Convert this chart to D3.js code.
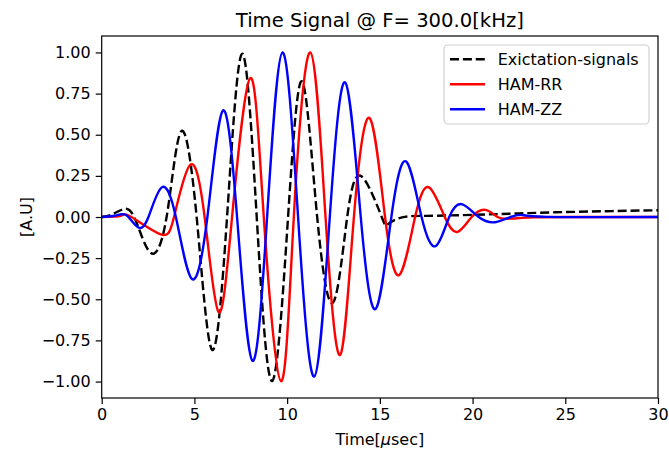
<!DOCTYPE html>
<html>
<head>
<meta charset="utf-8">
<script src="https://cdn.jsdelivr.net/npm/d3@7"></script>
<style>
  html, body { margin: 0; padding: 0; background: #fff; }
  svg text { font-family: "DejaVu Sans", sans-serif; fill: #000; }
</style>
</head>
<body>
<svg id="chart" width="669" height="452"></svg>
<script>
// ---- data ----
const title = "Time Signal @ F= 300.0[kHz]";
const seriesNames = ["Exictation-signals", "HAM-RR", "HAM-ZZ"];

// Excitation signal: time [µs] and amplitude at extrema / zero crossings
const excT = [0, 0.5, 1.08, 1.75, 2.62, 3.5, 4.28, 5.12, 5.95, 6.76, 7.57, 8.36, 9.19, 10.05, 10.81, 11.62, 12.48, 13.24, 14.02, 15.1, 15.46, 16.2, 17.5, 20, 22.5, 25, 27.5, 30];
const excV = [0, 0.013, 0.044, 0, -0.216, 0, 0.52, 0, -0.807, 0, 0.992, 0, -0.997, 0, 0.824, 0, -0.52, 0, 0.246, 0, -0.042, -0.002, 0.007, 0.013, 0.022, 0.03, 0.036, 0.041];

// HAM-RR
const rrT = [0, 0.6, 1.08, 1.6, 3.15, 3.9, 4.77, 5.55, 6.3, 7.03, 8.01, 8.74, 9.67, 10.36, 11.25, 12.07, 12.86, 13.6, 14.45, 15.28, 16.06, 16.9, 17.65, 18.5, 19.2, 19.95, 20.7, 21.35, 22.05, 23.2, 25, 30];
const rrV = [0, 0.002, 0.01, 0, -0.104, 0, 0.317, 0, -0.578, 0, 0.844, 0, -0.998, 0, 1.0, 0, -0.838, 0, 0.601, 0, -0.351, 0, 0.18, 0, -0.09, 0, 0.043, 0, -0.01, -0.002, 0, 0];

// HAM-ZZ
const zzT = [0, 0.6, 1.08, 1.44, 1.98, 2.52, 3.24, 4.0, 4.86, 5.7, 6.53, 7.3, 8.13, 8.92, 9.75, 10.59, 11.46, 12.3, 13.13, 13.97, 14.78, 15.62, 16.42, 17.25, 18.02, 18.74, 19.45, 20.33, 21.2, 22.05, 22.7, 24, 30];
const zzV = [0, 0.006, 0.017, 0, -0.064, 0, 0.18, 0, -0.376, 0, 0.646, 0, -0.874, 0, 1.0, 0, -0.97, 0, 0.818, 0, -0.558, 0, 0.337, 0, -0.176, 0, 0.077, 0, -0.032, 0, 0.012, 0.001, 0];

const xTicks = [0, 5, 10, 15, 20, 25, 30];
const yTicks = [-1.0, -0.75, -0.5, -0.25, 0.0, 0.25, 0.5, 0.75, 1.0];
const xDomain = [0, 30];
const yDomain = [-1.1, 1.1];

// ---- layout ----
const svg = d3.select("#chart");
const L = 101.7, R = 658, T = 36, B = 398;
const x = d3.scaleLinear().domain(xDomain).range([L, R]);
const y = d3.scaleLinear().domain(yDomain).range([B, T]);

const colors = ["#000000", "#ff0000", "#0000ff"];
const dashes = ["9,3.9", null, null];

svg.append("rect").attr("x", 0).attr("y", 0).attr("width", 669).attr("height", 452).attr("fill", "#fff");

// clip
svg.append("defs").append("clipPath").attr("id", "clip")
  .append("rect").attr("x", L).attr("y", T).attr("width", R - L).attr("height", B - T);

const series = [
  excT.map((t, i) => [t, excV[i]]),
  rrT.map((t, i) => [t, rrV[i]]),
  zzT.map((t, i) => [t, zzV[i]])
];

const line = d3.line().x(d => x(d[0])).y(d => y(d[1])).curve(d3.curveNatural);

const g = svg.append("g").attr("clip-path", "url(#clip)");
series.forEach((s, i) => {
  g.append("path").datum(s)
    .attr("d", line)
    .attr("fill", "none")
    .attr("stroke", colors[i])
    .attr("stroke-width", 2.4)
    .attr("stroke-linejoin", "round")
    .attr("stroke-dasharray", dashes[i]);
});

// axes
const fmt = d3.format(".2f");
const xAxis = d3.axisBottom(x).tickValues(xTicks).tickFormat(d3.format("d")).tickSize(6).tickPadding(5);
const yAxis = d3.axisLeft(y).tickValues(yTicks).tickFormat(d => fmt(d).replace("-", "\u2212")).tickSize(6).tickPadding(5);

const gx = svg.append("g").attr("transform", `translate(0,${B})`).call(xAxis);
const gy = svg.append("g").attr("transform", `translate(${L},0)`).call(yAxis);
[gx, gy].forEach(a => {
  a.select(".domain").remove();
  a.selectAll(".tick line").attr("stroke", "#000").attr("stroke-width", 1.2);
  a.selectAll(".tick text").attr("font-size", 16).attr("font-family", "DejaVu Sans, sans-serif").attr("fill", "#000");
});

// frame
svg.append("rect").attr("x", L).attr("y", T).attr("width", R - L).attr("height", B - T)
  .attr("fill", "none").attr("stroke", "#000").attr("stroke-width", 1.2);

// title & labels
svg.append("text").attr("x", (L + R) / 2).attr("y", 26.5).attr("text-anchor", "middle")
  .attr("font-size", 19.6).text(title);

const xl = svg.append("text").attr("x", (L + R) / 2).attr("y", 445).attr("text-anchor", "middle")
  .attr("font-size", 16);
xl.append("tspan").text("Time[");
xl.append("tspan").attr("font-style", "italic").text("\u03bc");
xl.append("tspan").text("sec]");

svg.append("text").attr("transform", `translate(32,${(T + B) / 2}) rotate(-90)`)
  .attr("text-anchor", "middle").attr("font-size", 16).text("[A.U]");

// legend
const lg = svg.append("g");
lg.append("rect").attr("x", 444).attr("y", 45).attr("width", 205).attr("height", 79)
  .attr("rx", 4).attr("fill", "#fff").attr("fill-opacity", 0.8)
  .attr("stroke", "#d0d0d0").attr("stroke-width", 1.2);
seriesNames.forEach((name, i) => {
  const cy = 59.3 + i * 25;
  lg.append("line").attr("x1", 450).attr("x2", 485).attr("y1", cy).attr("y2", cy)
    .attr("stroke", colors[i]).attr("stroke-width", 2.4).attr("stroke-dasharray", dashes[i]);
  lg.append("text").attr("x", 497.7).attr("y", cy).attr("dy", "0.35em")
    .attr("font-size", 16).text(name);
});
</script>
</body>
</html>
